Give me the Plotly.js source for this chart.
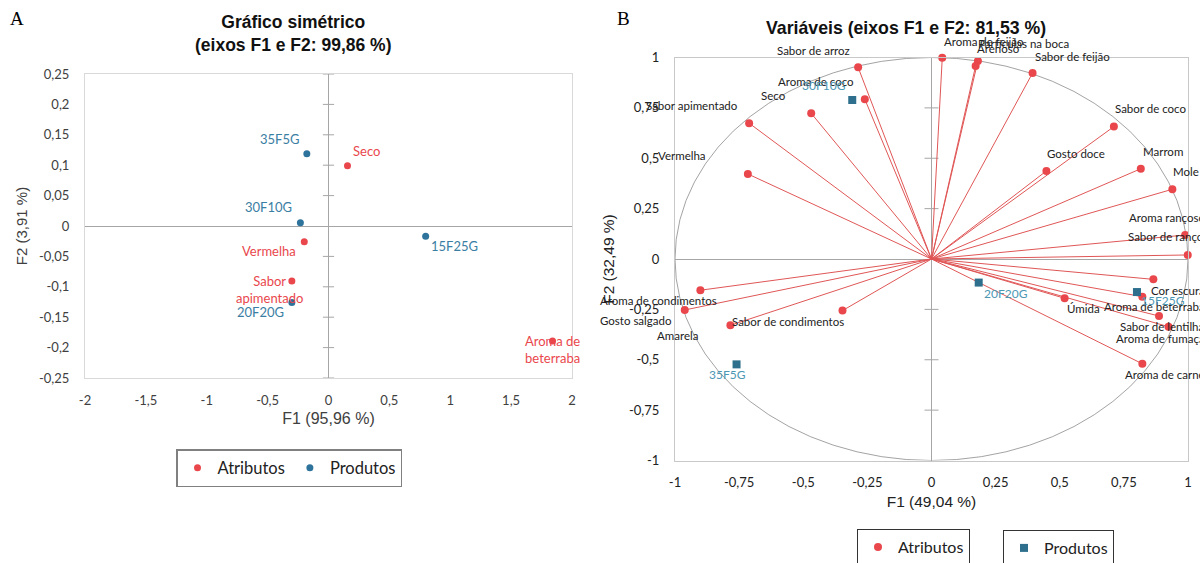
<!DOCTYPE html>
<html><head><meta charset="utf-8">
<script src="https://cdn.plot.ly/plotly-3.0.1.min.js"></script>
<style>html,body{margin:0;padding:0;background:#fff}#chart{width:1200px;height:563px}</style>
</head><body><div id="chart"></div>
<script>
// ---------- Panel A: Gráfico simétrico ----------
const symAttrNames = ['Seco', 'Vermelha', 'Sabor<br>apimentado', 'Aroma de<br>beterraba'];
const symAttrF1 = [0.156, -0.199, -0.301, 1.84];
const symAttrF2 = [0.099, -0.026, -0.0905, -0.189];
const symProdNames = ['35F5G', '30F10G', '15F25G', '20F20G'];
const symProdF1 = [-0.178, -0.231, 0.798, -0.301];
const symProdF2 = [0.119, 0.0055, -0.017, -0.126];
const symXTicks = [-2, -1.5, -1, -0.5, 0, 0.5, 1, 1.5, 2];
const symXTickText = ['-2', '-1,5', '-1', '-0,5', '0', '0,5', '1', '1,5', '2'];
const symYTicks = [-0.25, -0.2, -0.15, -0.1, -0.05, 0, 0.05, 0.1, 0.15, 0.2, 0.25];
const symYTickText = ['-0,25', '-0,2', '-0,15', '-0,1', '-0,05', '0', '0,05', '0,1', '0,15', '0,2', '0,25'];

// ---------- Panel B: Variáveis ----------
const varNames = ['Aroma de feijão', 'Partículas na boca', 'Arenoso', 'Sabor de feijão', 'Sabor de coco',
  'Gosto doce', 'Marrom', 'Mole', 'Aroma rançoso', 'Sabor de rançoso', 'Sabor de arroz', 'Aroma de coco',
  'Seco', 'Sabor apimentado', 'Vermelha', 'Aroma de condimentos', 'Gosto salgado', 'Amarela',
  'Sabor de condimentos', 'Cor escura', 'Aroma de beterraba', 'Úmida', 'Sabor de lentilha',
  'Aroma de fumaça', 'Aroma de carne'];
const varF1 = [0.042, 0.181, 0.172, 0.394, 0.711, 0.448, 0.816, 0.939, 0.989, 0.999, -0.286, -0.26,
  -0.469, -0.711, -0.716, -0.901, -0.962, -0.784, -0.347, 0.865, 0.822, 0.519, 0.887, 0.924, 0.822];
const varF2 = [0.999, 0.983, 0.958, 0.923, 0.657, 0.437, 0.448, 0.346, 0.119, 0.02, 0.951, 0.793,
  0.723, 0.674, 0.422, -0.155, -0.253, -0.329, -0.256, -0.101, -0.187, -0.195, -0.283, -0.336, -0.52];
const prodNames = ['30F10G', '20F20G', '15F25G', '35F5G'];
const prodF1 = [-0.309, 0.184, 0.801, -0.76];
const prodF2 = [0.789, -0.117, -0.164, -0.523];
const circTicks = [-1, -0.75, -0.5, -0.25, 0, 0.25, 0.5, 0.75, 1];
const circTickText = ['-1', '-0,75', '-0,5', '-0,25', '0', '0,25', '0,5', '0,75', '1'];

// ---------- styles ----------
const RED = '#E9474C', RED_LINE = '#E05656', BLUE_A = '#2E739C', BLUE_A_TXT = '#3A7EA3';
const BLUE_B = '#2D6F8C', BLUE_B_TXT = '#4C97B4', DARK = '#222222';
const LBL = 'Lato, "Noto Sans", sans-serif', ARIAL = '"Liberation Sans", Arial, sans-serif';

// label placement: [anchor, dx px, dy px (down positive)]
const posA = {
  'Seco': ['center', 19.5, -15], 'Vermelha': ['center', -35, 9.3], 'Sabor<br>apimentado': ['center', -22, 8],
  'Aroma de<br>beterraba': ['center', 0, 8.7], '35F5G': ['center', -27.5, -14.7], '30F10G': ['center', -31.8, -15.4],
  '15F25G': ['center', 29.3, 9.7], '20F20G': ['center', -31.4, 9.6]
};
const posB = {
  'Aroma de feijão': ['left', 2, -16.6], 'Partículas na boca': ['left', 0, -17.7], 'Arenoso': ['left', 1, -17],
  'Sabor de feijão': ['left', 2, -17], 'Sabor de coco': ['left', 1, -17.7], 'Gosto doce': ['left', 1, -17],
  'Marrom': ['left', 2, -17.7], 'Mole': ['left', 1, -17.6], 'Aroma rançoso': ['left', -56.5, -17.3],
  'Sabor de rançoso': ['left', -60, -18.3], 'Sabor de arroz': ['right', -8.3, -17.3],
  'Aroma de coco': ['right', -10.8, -17.6], 'Seco': ['right', -25.6, -17.6], 'Sabor apimentado': ['right', -11, -17.3],
  'Vermelha': ['right', -41.6, -18.3], 'Aroma de condimentos': ['right', 16.4, 10.4], 'Gosto salgado': ['right', -12.6, 10.7],
  'Amarela': ['right', -32.9, 10.7], 'Sabor de condimentos': ['right', 1.2, 10.6], 'Cor escura': ['left', -2.8, 10.7],
  'Aroma de beterraba': ['left', -38.3, 10], 'Úmida': ['left', 2.3, 10], 'Sabor de lentilha': ['left', -38.8, 10],
  'Aroma de fumaça': ['left', -52.3, 11.6], 'Aroma de carne': ['left', -17.7, 10.7]
};
const posProdB = {
  '30F10G': ['center', -28, -15], '20F20G': ['left', 5.7, 10.6], '15F25G': ['left', 4, 8.7], '35F5G': ['center', -9, 10]
};

function labelAnn(names, xs, ys, pos, xref, yref, font) {
  return names.map((n, i) => {
    const p = pos[n];
    return { x: xs[i], y: ys[i], xref: xref, yref: yref, text: n, showarrow: false,
      xanchor: p[0], yanchor: 'middle', xshift: p[1], yshift: -p[2], font: font,
      borderpad: 0, borderwidth: 0 };
  });
}

// ---------- traces ----------
const traces = [];
// zero-line ticks (panel A, vertical axis)
const tickA = symYTicks.filter(v => v !== 0);
traces.push({ x: tickA.map(() => 0), y: tickA, xaxis: 'x', yaxis: 'y', mode: 'markers', showlegend: false,
  hoverinfo: 'skip', cliponaxis: false,
  marker: { symbol: 'line-ew', size: 8, line: { width: 1, color: '#A6A6A6' } } });
traces.push({ x: symAttrF1, y: symAttrF2, xaxis: 'x', yaxis: 'y', mode: 'markers', name: 'Atributos',
  text: symAttrNames, hoverinfo: 'text+x+y', legend: 'legend', cliponaxis: false,
  marker: { color: RED, size: 7 } });
traces.push({ x: symProdF1, y: symProdF2, xaxis: 'x', yaxis: 'y', mode: 'markers', name: 'Produtos',
  text: symProdNames, hoverinfo: 'text+x+y', legend: 'legend', cliponaxis: false,
  marker: { color: BLUE_A, size: 7 } });

// panel B ticks on vertical zero line
const tickB = circTicks.filter(v => v !== 0 && Math.abs(v) !== 1);
traces.push({ x: tickB.map(() => 0), y: tickB, xaxis: 'x2', yaxis: 'y2', mode: 'markers', showlegend: false,
  hoverinfo: 'skip', marker: { symbol: 'line-ew', size: 10, line: { width: 1, color: '#A6A6A6' } } });
// vectors from origin
const vx = [], vy = [];
varF1.forEach((v, i) => { vx.push(0, v, null); vy.push(0, varF2[i], null); });
traces.push({ x: vx, y: vy, xaxis: 'x2', yaxis: 'y2', mode: 'lines', showlegend: false, hoverinfo: 'skip',
  line: { color: RED_LINE, width: 1 } });
traces.push({ x: varF1, y: varF2, xaxis: 'x2', yaxis: 'y2', mode: 'markers', name: 'Atributos',
  text: varNames, hoverinfo: 'text+x+y', legend: 'legend2', cliponaxis: false,
  marker: { color: RED, size: 8 } });
traces.push({ x: prodF1, y: prodF2, xaxis: 'x2', yaxis: 'y2', mode: 'markers', name: 'Produtos',
  text: prodNames, hoverinfo: 'text+x+y', legend: 'legend3', cliponaxis: false,
  marker: { color: BLUE_B, size: 8, symbol: 'square' } });

// ---------- annotations ----------
const ann = [];
ann.push(...labelAnn(symAttrNames, symAttrF1, symAttrF2, posA, 'x', 'y', { family: LBL, size: 13, color: RED }));
ann.push(...labelAnn(symProdNames, symProdF1, symProdF2, posA, 'x', 'y', { family: LBL, size: 13, color: BLUE_A_TXT }));
ann.push(...labelAnn(varNames, varF1, varF2, posB, 'x2', 'y2', { family: LBL, size: 11.5, color: DARK }));
ann.push(...labelAnn(prodNames, prodF1, prodF2, posProdB, 'x2', 'y2', { family: LBL, size: 12, color: BLUE_B_TXT }));

const px = v => v / 1200, py = v => 1 - v / 563;
// titles and panel letters
ann.push({ xref: 'paper', yref: 'paper', x: px(293), y: py(33.5), xanchor: 'center', yanchor: 'middle', showarrow: false,
  text: '<b>Gráfico simétrico</b><br><b>(eixos F1 e F2: 99,86 %)</b>', font: { family: ARIAL, size: 17.5, color: '#111' } });
ann.push({ xref: 'paper', yref: 'paper', x: px(906), y: py(28), xanchor: 'center', yanchor: 'middle', showarrow: false,
  text: '<b>Variáveis (eixos F1 e F2: 81,53 %)</b>', font: { family: ARIAL, size: 17.7, color: '#111' } });
ann.push({ xref: 'paper', yref: 'paper', x: px(17), y: py(19), xanchor: 'center', yanchor: 'middle', showarrow: false,
  text: 'A', font: { family: '"Liberation Serif", "DejaVu Serif", serif', size: 19, color: '#000' } });
ann.push({ xref: 'paper', yref: 'paper', x: px(623), y: py(18.5), xanchor: 'center', yanchor: 'middle', showarrow: false,
  text: 'B', font: { family: '"Liberation Serif", "DejaVu Serif", serif', size: 19, color: '#000' } });

const layout = {
  width: 1200, height: 563, paper_bgcolor: '#fff', plot_bgcolor: '#fff',
  margin: { l: 0, r: 0, t: 0, b: 0, autoexpand: false },
  showlegend: true, hovermode: 'closest',
  xaxis: { domain: [px(85), px(572)], range: [-2, 2], anchor: 'y', tickvals: symXTicks, ticktext: symXTickText,
    showgrid: false, zeroline: true, zerolinecolor: '#A6A6A6', zerolinewidth: 1, showline: true, mirror: true,
    linecolor: '#D9D9D9', linewidth: 1, ticks: '', ticklabelstandoff: 10, automargin: false,
    tickfont: { family: LBL, size: 13, color: '#404040' },
    title: { text: 'F1 (95,96 %)', font: { family: ARIAL, size: 16, color: '#404040' }, standoff: 6 } },
  yaxis: { domain: [py(378), py(74)], range: [-0.25, 0.25], anchor: 'x', tickvals: symYTicks, ticktext: symYTickText,
    showgrid: false, zeroline: true, zerolinecolor: '#A6A6A6', zerolinewidth: 1, showline: true, mirror: true,
    linecolor: '#D9D9D9', linewidth: 1, ticks: '', ticklabelstandoff: 12, automargin: false,
    tickfont: { family: LBL, size: 13, color: '#404040' },
    title: { text: 'F2 (3,91 %)', font: { family: ARIAL, size: 15, color: '#404040' }, standoff: 7 } },
  xaxis2: { domain: [px(675), px(1188)], range: [-1, 1], anchor: 'y2', tickvals: circTicks, ticktext: circTickText,
    showgrid: false, zeroline: true, zerolinecolor: '#A6A6A6', zerolinewidth: 1, showline: true, mirror: true,
    linecolor: '#C8C8C8', linewidth: 1, ticks: '', ticklabelstandoff: 10, automargin: false,
    tickfont: { family: LBL, size: 13, color: DARK },
    title: { text: 'F1 (49,04 %)', font: { family: ARIAL, size: 15.5, color: DARK }, standoff: 7 } },
  yaxis2: { domain: [py(460.5), py(57.5)], range: [-1, 1], anchor: 'x2', tickvals: circTicks, ticktext: circTickText,
    showgrid: false, zeroline: true, zerolinecolor: '#A6A6A6', zerolinewidth: 1, showline: true, mirror: true,
    linecolor: '#C8C8C8', linewidth: 1, ticks: '', ticklabelstandoff: 12, automargin: false,
    tickfont: { family: LBL, size: 13, color: DARK },
    title: { text: 'F2 (32,49 %)', font: { family: ARIAL, size: 15.5, color: DARK }, standoff: 10 } },
  shapes: [{ type: 'circle', xref: 'x2', yref: 'y2', x0: -1, x1: 1, y0: -1, y1: 1,
    line: { color: '#8C8C8C', width: 0.8 }, layer: 'below' }],
  legend: { x: px(176), xanchor: 'left', y: py(449), yanchor: 'top', orientation: 'h', bgcolor: '#fff',
    bordercolor: '#808080', borderwidth: 1.5, font: { family: LBL, size: 16.5, color: DARK } },
  legend2: { x: px(857), xanchor: 'left', y: py(529), yanchor: 'top', orientation: 'h', bgcolor: '#fff',
    bordercolor: '#333', borderwidth: 1, font: { family: LBL, size: 16, color: DARK } },
  legend3: { x: px(1003), xanchor: 'left', y: py(530), yanchor: 'top', orientation: 'h', bgcolor: '#fff',
    bordercolor: '#333', borderwidth: 1, font: { family: LBL, size: 16, color: DARK } },
  annotations: ann
};

Plotly.newPlot('chart', traces, layout, { displayModeBar: false, staticPlot: false });
</script>
</body></html>
